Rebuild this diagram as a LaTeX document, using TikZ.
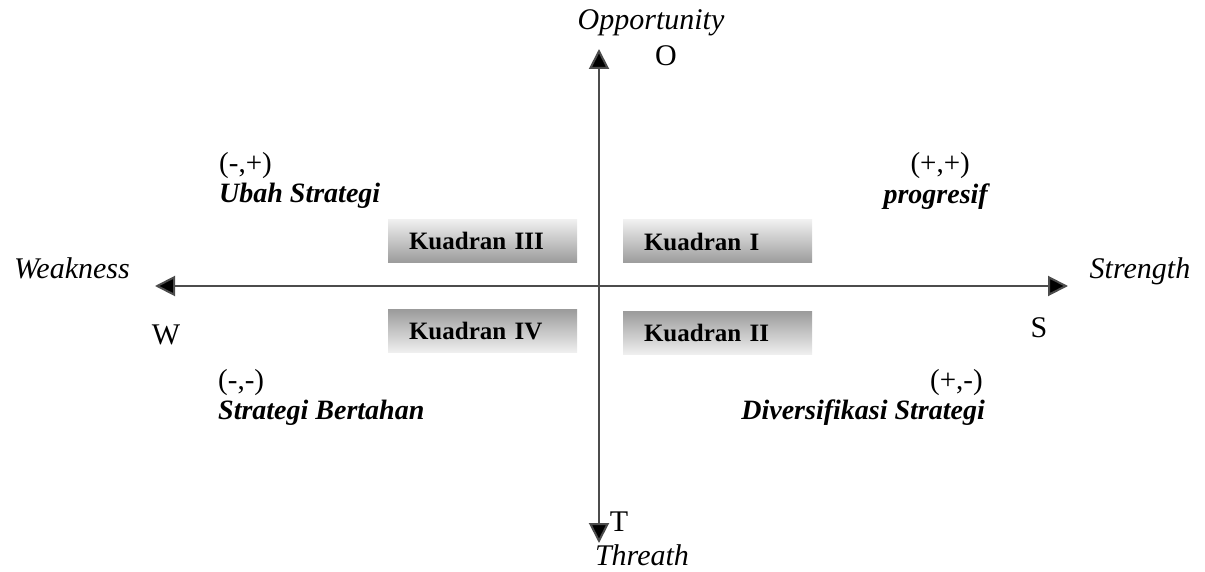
\documentclass[tikz,border=0pt]{standalone}
\usepackage{fontspec}
\setmainfont{Liberation Serif}
\usetikzlibrary{arrows.meta}
\tikzset{
  axis/.style={line width=2pt, draw=black!70, -{Triangle[length=20pt,width=20pt,fill=black]}},
  lbl/.style={font=\fontsize{30}{34}\selectfont, inner sep=0pt, anchor=base},
  ilbl/.style={lbl, font=\fontsize{30}{34}\selectfont\itshape},
  slbl/.style={font=\fontsize{28}{32}\selectfont\bfseries\itshape, inner sep=0pt},
  sgn/.style={font=\fontsize{29}{34}\selectfont, inner sep=0pt},
  quadbox/.style={minimum width=189pt, minimum height=43pt, text width=147pt, inner xsep=21pt, inner ysep=0pt, align=left, font=\fontsize{25}{28}\selectfont\bfseries},
  quadtop/.style={quadbox, top color=gray!12, bottom color=gray!78},
  quadbot/.style={quadbox, top color=gray!78, bottom color=gray!12},
}
\begin{document}
\begin{tikzpicture}[x=1pt,y=-1pt]
\useasboundingbox (0,0) rectangle (1205,572);
% axis end points
\coordinate (top) at (599,49);
\coordinate (bot) at (599,543);
\coordinate (left) at (155,286);
\coordinate (right) at (1068,286);
\coordinate (orig) at (599,286);
% quadrant boxes
\node[quadtop] (q3) at (482.5,241) {Kuadran III};
\node[quadtop] (q1) at (717.5,241.5) {Kuadran I};
\node[quadbot] (q4) at (482.5,331) {Kuadran IV};
\node[quadbot] (q2) at (717.5,333) {Kuadran II};
% axes
\draw[axis] (orig) -- (top);
\draw[axis] (orig) -- (bot);
\draw[axis] (orig) -- (left);
\draw[axis] (orig) -- (right);
% axis labels
\node[ilbl] (opp) at (651,30) {Opportunity};
\node[lbl] (o) at (666,66) {O};
\node[ilbl] (weak) at (72,278) {Weakness};
\node[ilbl] (str) at (1140,278) {Strength};
\node[lbl] (w) at (166,344) {W};
\node[lbl] (s) at (1039,337) {S};
\node[lbl] (t) at (619,531) {T};
\node[ilbl] (thr) at (642,565) {Threath};
% quadrant strategies
\node[sgn, anchor=base west] (s3) at (219,173) {(-,+)};
\node[slbl, anchor=base west] (n3) at (219,203) {Ubah Strategi};
\node[sgn, anchor=base east] (s1) at (970,173) {(+,+)};
\node[slbl, anchor=base east] (n1) at (988,204) {progresif};
\node[sgn, anchor=base west] (s4) at (218,389) {(-,-)};
\node[slbl, anchor=base west] (n4) at (218,419) {Strategi Bertahan};
\node[sgn, anchor=base east] (s2) at (983,389) {(+,-)};
\node[slbl, anchor=base east] (n2) at (985,419) {Diversifikasi Strategi};
\end{tikzpicture}
\end{document}
